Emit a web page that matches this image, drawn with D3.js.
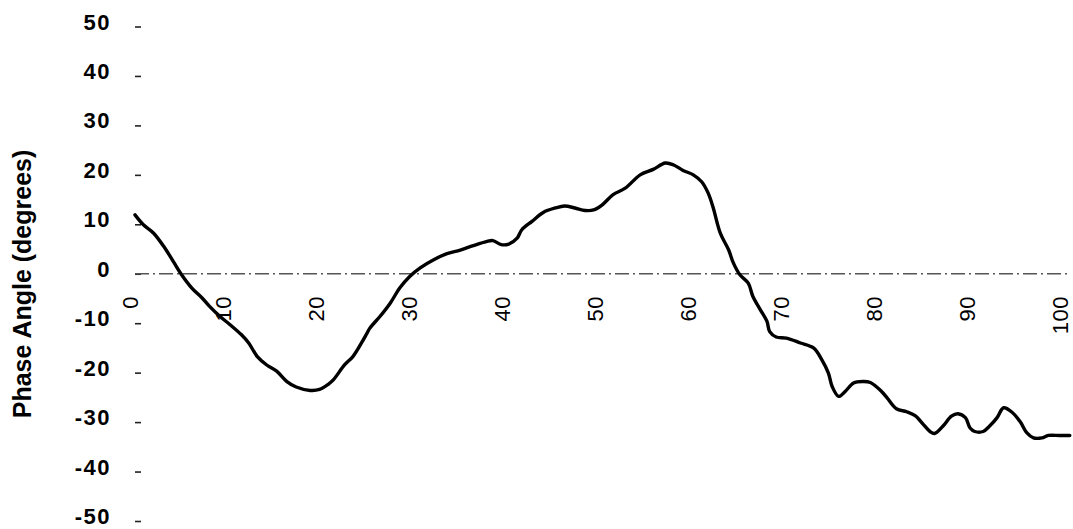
<!DOCTYPE html>
<html>
<head>
<meta charset="utf-8">
<script src="https://cdn.jsdelivr.net/npm/d3@7"></script>
<style>
  html, body { margin: 0; padding: 0; background: #fff; }
  svg { display: block; }
  text { font-family: "Liberation Sans", Arial, Helvetica, sans-serif; fill: #000; }
</style>
</head>
<body>
<svg id="chart" width="1073" height="529"></svg>
<script>
// ---- data ----
const phaseX = [0,0.9,2.0,3.2,4.1,5.0,6.1,7.2,8.0,9.1,10.2,11.4,12.2,13.1,14.1,15.2,16.3,17.3,18.8,19.8,
  20.7,21.3,22.5,23.4,24.3,24.9,25.2,26.3,27.4,28.4,29.5,30.6,32.0,33.4,34.9,36.3,37.7,38.4,39.3,40.1,
  41.0,41.5,42.6,43.8,45.1,46.1,47.2,48.3,49.2,50.1,51.3,52.6,54.2,55.6,56.9,57.8,58.8,59.9,60.8,61.5,
  62.0,62.8,63.7,64.2,64.9,65.8,66.3,67.1,67.8,68.1,68.8,69.9,71.4,72.8,73.7,74.4,74.8,75.5,76.2,77.1,
  78.1,78.9,80.1,80.7,81.7,82.8,83.7,84.6,85.3,85.8,86.7,87.6,88.3,89.1,89.6,90.1,91.0,91.7,92.5,93.2,
  94.1,95.0,95.7,96.4,97.3,98.0,99.2,100.3];
const phaseY = [11.9,9.9,8.2,5.2,2.5,-0.2,-2.9,-4.9,-6.6,-8.6,-10.3,-12.3,-14.0,-16.7,-18.4,-19.7,-21.8,-22.9,-23.6,-23.4,
  -22.4,-21.4,-18.4,-16.7,-14.0,-12.0,-11.0,-8.6,-5.9,-2.9,-0.5,1.2,2.8,4.0,4.8,5.7,6.5,6.7,5.9,6.0,
  7.2,8.9,10.6,12.4,13.3,13.7,13.3,12.8,12.9,13.9,16.0,17.3,20.0,21.1,22.4,22.0,20.9,20.0,18.6,16.3,
  13.6,8.2,4.8,2.2,-0.2,-1.9,-4.6,-7.3,-9.6,-11.7,-12.8,-13.0,-14.0,-15.0,-17.4,-20.1,-22.8,-24.8,-23.8,-22.1,
  -21.8,-22.0,-23.8,-25.1,-27.3,-27.9,-28.7,-30.5,-31.9,-32.3,-30.8,-28.8,-28.3,-29.1,-31.2,-31.9,-31.9,-30.8,-29.1,-27.1,
  -28.0,-30.0,-32.2,-33.2,-33.2,-32.7,-32.7,-32.7];
const xTicks = [0,10,20,30,40,50,60,70,80,90,100];
const yTicks = [50,40,30,20,10,0,-10,-20,-30,-40,-50];
const yTitle = "Phase Angle (degrees)";

// ---- layout ----
const svg = d3.select("#chart");
const x = d3.scaleLinear().domain([0, 100]).range([135, 1067]);
const y = d3.scaleLinear().domain([-50, 50]).range([521, 26.5]);

// y axis: small tick dashes and bold labels, no domain line
const yAxis = d3.axisLeft(y).tickValues(yTicks).tickSize(6).tickPadding(24).tickFormat(d => String(d));
const gy = svg.append("g").attr("transform", "translate(141,0)").call(yAxis);
gy.select(".domain").remove();
gy.selectAll(".tick line").attr("stroke", "#222").attr("stroke-width", 1.6);
gy.selectAll(".tick text")
  .attr("dy", "2.5px")
  .style("font-size", "22px")
  .style("font-weight", "bold")
  .style("letter-spacing", "1.5px")
  .style("font-family", "'Liberation Sans', Arial, sans-serif")
  .attr("fill", "#000");

// zero line (dash-dot)
svg.append("line")
  .attr("x1", x(0)).attr("x2", x(100.3))
  .attr("y1", y(0)).attr("y2", y(0))
  .attr("stroke", "#555").attr("stroke-width", 1.3)
  .attr("stroke-dasharray", "14,4,2,4");

// x tick labels, rotated
svg.append("g").selectAll("text")
  .data(xTicks)
  .join("text")
  .attr("transform", d => `translate(${x(d) - 5 - d * 0.02},296) rotate(-90)`)
  .attr("text-anchor", "end")
  .attr("dy", "0.35em")
  .style("font-size", "22px")
  .style("letter-spacing", "0.5px")
  .text(d => d);

// y axis title
svg.append("text")
  .attr("transform", "translate(31,284) rotate(-90)")
  .attr("text-anchor", "middle")
  .style("font-size", "25px")
  .style("font-weight", "bold")
  .text(yTitle);

// the curve
const pts = phaseX.map((d, i) => [d, phaseY[i]]);
const line = d3.line()
  .x(d => x(d[0]))
  .y(d => y(d[1]))
  .curve(d3.curveCatmullRom.alpha(0.5));
svg.append("path")
  .datum(pts)
  .attr("fill", "none")
  .attr("stroke", "#000")
  .attr("stroke-width", 3.4)
  .attr("stroke-linejoin", "round")
  .attr("stroke-linecap", "round")
  .attr("d", line);
</script>
</body>
</html>
